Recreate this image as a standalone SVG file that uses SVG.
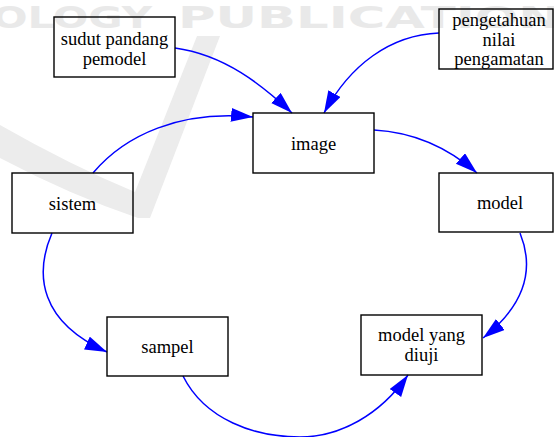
<svg xmlns="http://www.w3.org/2000/svg" width="554" height="437" viewBox="0 0 554 437">
  <style>
    .box { fill: none; stroke: #000; stroke-width: 1.4; }
    .lbl { font-family: "Liberation Serif", "Times New Roman", serif; font-size: 18.5px; fill: #000; text-anchor: middle; }
    .edge { fill: none; stroke: #0000ff; stroke-width: 1.5; }
    .wm { font-family: "DejaVu Sans", "Liberation Sans", sans-serif; font-weight: bold; font-size: 30px; fill: #e9e9e9; }
  </style>
  <defs>
    <marker id="arrow" markerUnits="userSpaceOnUse" markerWidth="24" markerHeight="16" refX="22" refY="7" orient="auto">
      <path d="M0,0 L22,7 L0,14 Z" fill="#0000ff"/>
    </marker>
  </defs>
  <rect width="554" height="437" fill="#fff"/>
  <g id="watermark">
    <text class="wm" x="-8" y="28" textLength="160" lengthAdjust="spacingAndGlyphs">OLOGY</text>
    <text class="wm" x="178" y="28" textLength="420" lengthAdjust="spacingAndGlyphs">PUBLICATIONS</text>
    <path d="M0,125 Q70,165 135,192 L197,36 L220,36 L150,218 L138,218 Q70,195 0,158 Z" fill="#ececec"/>
  </g>
  <g id="connectors">
    <path class="edge" marker-end="url(#arrow)" d="M175,48 C225,55 262,85 292,113"/>
    <path class="edge" marker-end="url(#arrow)" d="M439,33 C390,35 350,65 324,113"/>
    <path class="edge" marker-end="url(#arrow)" d="M93,173 C125,135 180,110 253,117"/>
    <path class="edge" marker-end="url(#arrow)" d="M374,130 C410,132 445,145 477,173"/>
    <path class="edge" marker-end="url(#arrow)" d="M52,233 C34,275 40,322 107,352"/>
    <path class="edge" marker-end="url(#arrow)" d="M520,233 C535,270 525,305 483,338"/>
    <path class="edge" marker-end="url(#arrow)" d="M183,376 C205,420 255,437 300,437 C340,437 380,415 408,375"/>
  </g>
  <g id="sudut">
    <rect class="box" x="54" y="17" width="121" height="60"/>
    <text class="lbl" x="114.5" y="45">sudut pandang</text>
    <text class="lbl" x="114.5" y="65">pemodel</text>
  </g>
  <g id="pengetahuan">
    <rect class="box" x="439" y="9" width="114" height="60"/>
    <text class="lbl" x="499" y="26">pengetahuan</text>
    <text class="lbl" x="499" y="45.5">nilai</text>
    <text class="lbl" x="499" y="65">pengamatan</text>
  </g>
  <g id="image">
    <rect class="box" x="253" y="113" width="121" height="60"/>
    <text class="lbl" x="313.5" y="149.5">image</text>
  </g>
  <g id="sistem">
    <rect class="box" x="12" y="173" width="121" height="60"/>
    <text class="lbl" x="72.5" y="209.5">sistem</text>
  </g>
  <g id="model">
    <rect class="box" x="439" y="173" width="114" height="59"/>
    <text class="lbl" x="500" y="209">model</text>
  </g>
  <g id="sampel">
    <rect class="box" x="107" y="317" width="121" height="59"/>
    <text class="lbl" x="167.5" y="353">sampel</text>
  </g>
  <g id="model-diuji">
    <rect class="box" x="361" y="315" width="121" height="60"/>
    <text class="lbl" x="421.5" y="341">model yang</text>
    <text class="lbl" x="421.5" y="361">diuji</text>
  </g>
</svg>
